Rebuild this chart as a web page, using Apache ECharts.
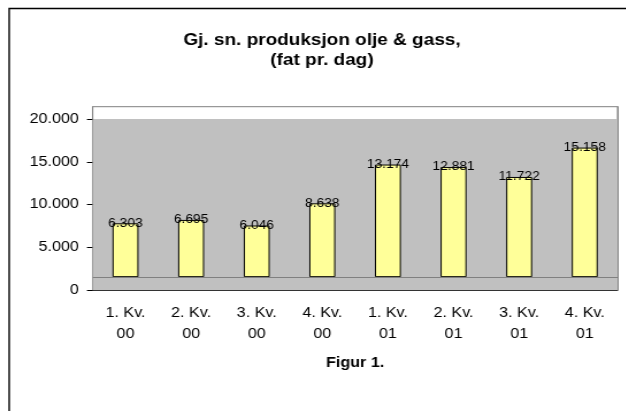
<!DOCTYPE html>
<html>
<head>
<meta charset="utf-8">
<script src="https://cdn.jsdelivr.net/npm/echarts@6/dist/echarts.min.js"></script>
<style>
  html, body { margin: 0; padding: 0; background: #fff; overflow: hidden; }
  /* the source picture is stretched sideways, so the chart is too */
  #main { width: 544px; height: 411px; transform: scaleX(1.15); transform-origin: 0 0; }
</style>
</head>
<body>
<div id="main"></div>
<script>
const quarters = ['1. Kv.\n00', '2. Kv.\n00', '3. Kv.\n00', '4. Kv.\n00',
                  '1. Kv.\n01', '2. Kv.\n01', '3. Kv.\n01', '4. Kv.\n01'];
const production = [6303, 6695, 6046, 8638, 13174, 12881, 11722, 15158];
const yTicks = [0, 5000, 10000, 15000, 20000];
const floorLevel = 1500;   // Excel-style floor the columns stand on
const wallTop = 20000;
const axisTop = 21440;

const font = '"Liberation Sans", Arial, sans-serif';
const fmt = v => String(v).replace(/\B(?=(\d{3})+(?!\d))/g, '.');

const chart = echarts.init(document.getElementById('main'));

chart.setOption({
    animation: false,
    textStyle: { fontFamily: font },
    graphic: [
        {
            type: 'rect', silent: true,
            shape: { x: 8, y: 8.5, width: 700, height: 500 },
            style: { fill: 'none', stroke: '#000', lineWidth: 1.4 }
        },
        {
            type: 'text', silent: true, x: 280, y: 30,
            style: {
                text: 'Gj. sn. produksjon olje & gass,\n(fat pr. dag)',
                fontFamily: font, fontSize: 16.5, fontWeight: 'bold', lineHeight: 20,
                align: 'center', verticalAlign: 'top', fill: '#000'
            }
        }
    ],
    grid: {
        left: 80.6, right: 7, top: 106.7, bottom: 121,
        show: true, backgroundColor: '#fff', borderColor: '#808080', borderWidth: 1
    },
    xAxis: {
        type: 'category',
        data: quarters,
        axisLine: { lineStyle: { color: '#333', width: 1 } },
        axisTick: { length: 5, lineStyle: { color: '#000' } },
        axisLabel: { interval: 0, fontSize: 14, lineHeight: 21, margin: 13, color: '#000' },
        name: 'Figur 1.',
        nameLocation: 'middle',
        nameGap: 66,
        nameTextStyle: { fontSize: 14, fontWeight: 'bold', color: '#000' }
    },
    yAxis: [
        {
            type: 'value', min: 0, max: axisTop, interval: 5000,
            splitLine: { show: false },
            axisLine: { show: true, lineStyle: { color: '#808080' } },
            axisTick: { show: true, length: 5, customValues: yTicks, lineStyle: { color: '#000' } },
            axisLabel: {
                customValues: yTicks,
                fontSize: 14, margin: 12, color: '#000', formatter: fmt
            }
        },
        {
            type: 'value', position: 'right', min: 0, max: axisTop,
            splitLine: { show: false },
            axisLine: { show: true, lineStyle: { color: '#808080' } },
            axisTick: { show: false },
            axisLabel: { show: false }
        }
    ],
    series: [
        {
            type: 'bar',
            stack: 'col',
            silent: true,
            barWidth: 22.6,
            data: quarters.map(() => floorLevel),
            itemStyle: { color: 'transparent', borderWidth: 0 },
            markArea: {
                silent: true,
                itemStyle: { color: '#c0c0c0' },
                data: [[{ yAxis: 0 }, { yAxis: wallTop }]]
            },
            markLine: {
                silent: true,
                symbol: 'none',
                label: { show: false },
                lineStyle: { color: '#808080', width: 1, type: 'solid' },
                data: [{ yAxis: floorLevel }]
            }
        },
        {
            type: 'bar',
            stack: 'col',
            silent: true,
            barWidth: 22.6,
            data: production,
            itemStyle: { color: '#ffff99', borderColor: '#000', borderWidth: 1 },
            label: {
                show: true, position: 'top', distance: -6,
                fontSize: 12, color: '#000', formatter: p => fmt(p.value)
            }
        }
    ]
});
</script>
</body>
</html>
